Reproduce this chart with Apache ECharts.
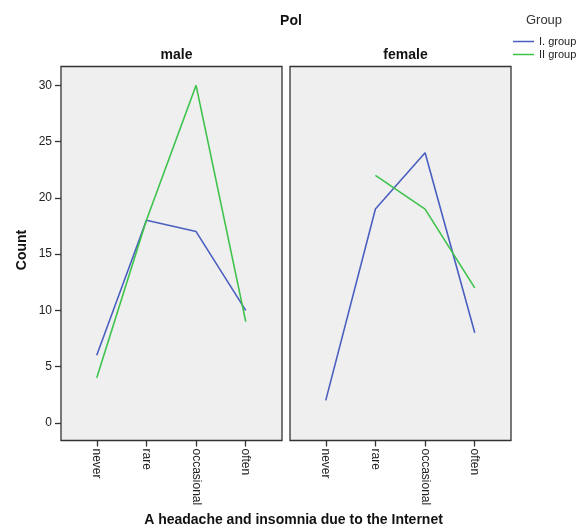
<!DOCTYPE html>
<html>
<head>
<meta charset="utf-8">
<script src="https://cdn.jsdelivr.net/npm/echarts@6/dist/echarts.min.js"></script>
<style>
  html, body { margin: 0; padding: 0; background: #fff; }
  #main { width: 587px; height: 530px; }
</style>
</head>
<body>
<div id="main"></div>
<script>
// categories on the x axis (same for both panels)
var categories = ['never', 'rare', 'occasional', 'often'];
var panels = ['male', 'female'];
var groups = ['I. group', 'II group'];
var yTicks = [0, 5, 10, 15, 20, 25, 30];

// counts per panel, null = no point
var maleGroup1 = [6, 18, 17, 10];
var maleGroup2 = [4, 18, 30, 9];
var femaleGroup1 = [2, 19, 24, 8];
var femaleGroup2 = [null, 22, 19, 12];

var colors = ['#4a5fc0', '#3ec34d'];
var font = 'Liberation Sans, Arial, sans-serif';

function pairs(arr) {
  var out = [];
  for (var i = 0; i < arr.length; i++) {
    if (arr[i] !== null) out.push([i, arr[i]]);
  }
  return out;
}

var chart = echarts.init(document.getElementById('main'), null, { renderer: 'canvas' });

var grids = [], xAxes = [], yAxes = [], titles = [];
var lefts = [61, 290];
for (var p = 0; p < panels.length; p++) {
  grids.push({
    left: lefts[p], top: 66.5, width: 221, height: 374,
    show: true, backgroundColor: '#efefef', borderColor: '#333', borderWidth: 1.3
  });
  xAxes.push({
    type: 'value', gridIndex: p, min: -0.72, max: 3.73,
    splitLine: { show: false },
    axisLine: { show: false, onZero: false },
    axisTick: { show: true, length: 6, customValues: [0, 1, 2, 3], lineStyle: { color: '#333', width: 1.3 } },
    axisLabel: {
      customValues: [0, 1, 2, 3], rotate: -90, margin: 8,
      fontFamily: font, fontSize: 12, color: '#222',
      formatter: function (v) { return categories[Math.round(v)]; }
    }
  });
  yAxes.push({
    type: 'value', gridIndex: p, min: -1.57, max: 31.67,
    splitLine: { show: false },
    axisLine: { show: false, onZero: false },
    axisTick: { show: p === 0, length: 6, customValues: yTicks, lineStyle: { color: '#333', width: 1.3 } },
    axisLabel: { show: p === 0, customValues: yTicks, margin: 9, fontFamily: font, fontSize: 12, color: '#222' }
  });
  titles.push({
    text: panels[p], left: lefts[p] + 110.5, top: 43, textAlign: 'center',
    textStyle: { fontFamily: font, fontSize: 14, fontWeight: 'bold', color: '#111' }
  });
}

titles.push({
  text: 'Pol', left: 286, top: 9, textAlign: 'center',
  textStyle: { fontFamily: font, fontSize: 14, fontWeight: 'bold', color: '#111' }
});
titles.push({
  text: 'Group', left: 539, top: 9, textAlign: 'center',
  textStyle: { fontFamily: font, fontSize: 13, fontWeight: 'normal', color: '#333' }
});

var option = {
  animation: false,
  color: colors,
  title: titles,
  legend: {
    orient: 'vertical', left: 513, top: 36, padding: 0,
    icon: 'rect', itemWidth: 21, itemHeight: 1.5, itemGap: 2,
    textStyle: { fontFamily: font, fontSize: 11, color: '#222' },
    data: groups
  },
  grid: grids,
  xAxis: xAxes,
  yAxis: yAxes,
  graphic: [
    {
      type: 'text', left: 'center', top: 513,
      style: { text: 'A headache and insomnia due to the Internet', font: 'bold 14px ' + font, fill: '#111' }
    },
    {
      type: 'text', x: 22, y: 250, rotation: Math.PI / 2,
      style: { text: 'Count', x: 0, y: 0, align: 'center', verticalAlign: 'middle', font: 'bold 14px ' + font, fill: '#111' }
    }
  ],
  series: [
    { name: groups[0], type: 'line', xAxisIndex: 0, yAxisIndex: 0, data: pairs(maleGroup1) },
    { name: groups[1], type: 'line', xAxisIndex: 0, yAxisIndex: 0, data: pairs(maleGroup2) },
    { name: groups[0], type: 'line', xAxisIndex: 1, yAxisIndex: 1, data: pairs(femaleGroup1) },
    { name: groups[1], type: 'line', xAxisIndex: 1, yAxisIndex: 1, data: pairs(femaleGroup2) }
  ].map(function (s, i) {
    s.showSymbol = false;
    s.symbol = 'none';
    s.lineStyle = { width: 1.6, color: colors[i % 2] };
    s.itemStyle = { color: colors[i % 2] };
    return s;
  })
};

chart.setOption(option);
</script>
</body>
</html>
